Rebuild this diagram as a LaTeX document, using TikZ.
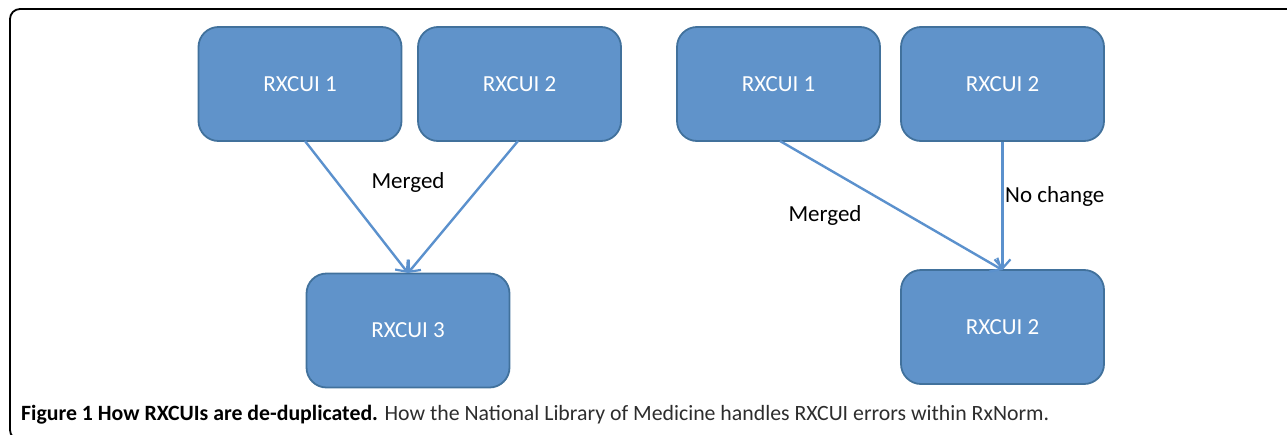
\documentclass[tikz,border=0pt]{standalone}
\usepackage{fontspec}
\setmainfont{Carlito}
\usetikzlibrary{arrows.meta}
\definecolor{boxfill}{RGB}{96,147,202}
\definecolor{boxline}{RGB}{65,113,156}
\definecolor{conn}{RGB}{91,145,205}
\definecolor{captxt}{RGB}{45,45,45}
\tikzset{
  rx/.style={draw=boxline, line width=1.8pt, fill=boxfill, rounded corners=20pt,
    minimum width=203pt, minimum height=114pt, text=white, inner sep=0pt,
    font=\fontsize{23}{26}\selectfont},
  conn/.style={draw=conn, line width=2.4pt, -{Straight Barb[length=9pt,width=16pt,line width=2.2pt]}},
  lbl/.style={text=black, font=\fontsize{23}{26}\selectfont, inner sep=0pt}
}
\begin{document}
\begin{tikzpicture}[x=1pt,y=-1pt]
\useasboundingbox (0,0) rectangle (1287,434);
% frame
\begin{scope}
\clip (0,0) rectangle (1287,434);
\draw[black, line width=1.8pt, rounded corners=10pt] (1300,9) -- (10,9) -- (10,440) -- (60,440);
\end{scope}
% left group
\node[rx] (a1) at (300,84) {RXCUI 1};
\node[rx] (a2) at (519.5,84) {RXCUI 2};
\node[rx] (a3) at (408,330.5) {RXCUI 3};
\coordinate (a1s) at (305,141);
\coordinate (a2s) at (518,141);
\coordinate (a3t) at (408,273);
\draw[conn] (a1s) -- (a3t);
\draw[conn] (a2s) -- (a3t);
\node[lbl] (m1) at (408,182) {Merged};
% right group
\node[rx] (b1) at (778.5,84) {RXCUI 1};
\node[rx] (b2) at (1002.5,84) {RXCUI 2};
\node[rx] (b3) at (1002.5,327) {RXCUI 2};
\coordinate (b1s) at (780,141);
\coordinate (b3t) at (1002.5,270);
\draw[conn] (b1s) -- (b3t);
\draw[conn] (b2.south) -- (b3t);
\node[lbl] (m2) at (825,215) {Merged};
\node[lbl, anchor=west] (nc) at (1005,196) {No change};
% caption
\node[anchor=west, inner sep=0pt, font=\fontsize{21.8}{24}\selectfont] (cap) at (21,415)
  {\textbf{Figure 1 How RXCUIs are de-duplicated.} \color{captxt}How the National Library of Medicine handles RXCUI errors within RxNorm.};
\end{tikzpicture}
\end{document}
